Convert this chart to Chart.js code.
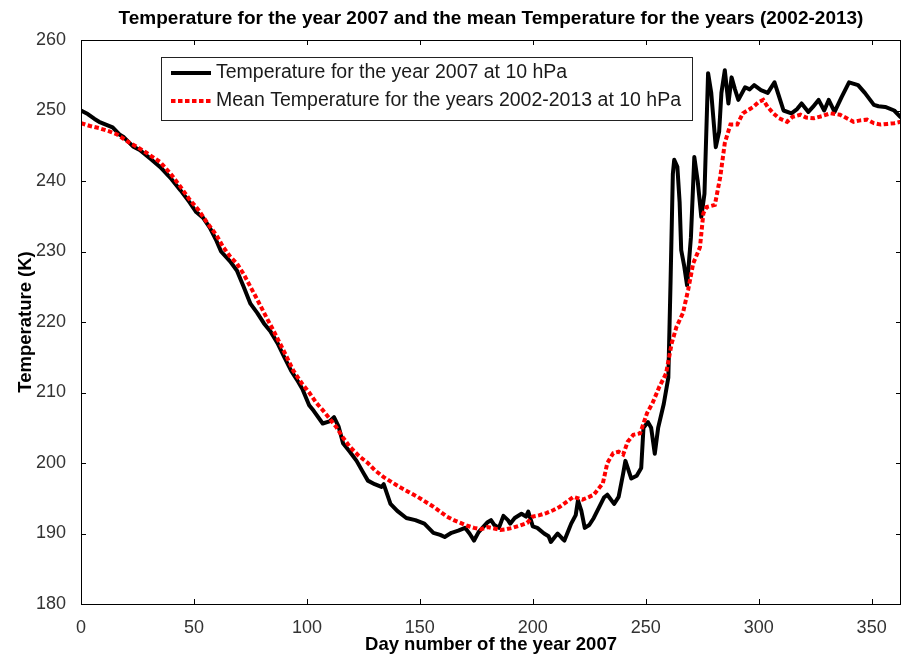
<!DOCTYPE html>
<html>
<head>
<meta charset="utf-8">
<title>Temperature at 10 hPa, 2007</title>
<script src="https://cdn.jsdelivr.net/npm/chart.js@4/dist/chart.umd.min.js"></script>
<style>
  html, body { margin: 0; padding: 0; background: #fff; overflow: hidden; }
  canvas { display: block; }
</style>
</head>
<body>
<canvas id="chartArea" width="902" height="660"></canvas>
<script>
// daily temperature at 10 hPa, 2007 (day number, K)
const days2007 = [0, 3, 6, 8, 11, 14, 17, 19, 23, 26, 31, 35, 40, 44, 48, 51, 54, 57, 60, 62,
    66, 69, 72, 75, 78, 81, 84, 87, 90, 93, 96, 98, 101, 103, 107, 110, 112, 114, 116, 119,
    122, 125, 127, 130, 133, 134, 137, 140, 144, 148, 152, 156, 159, 161, 164, 167, 170, 172, 174, 176,
    178, 180, 181.5, 183, 185, 187, 189, 190, 192, 195, 197, 198, 200, 202, 205, 207, 208, 210, 211, 213,
    214, 216, 217, 219, 220, 221.5, 223, 225, 227, 229, 231.5, 233, 236, 238, 240, 241, 243.6, 246, 248, 249,
    251, 252.4, 254, 255.5, 258, 260, 261, 262, 262.6, 264, 265, 265.7, 267, 268.3, 270, 271.5, 273, 274.6, 276, 277.6,
    279, 281, 282.5, 283.5, 285, 286.6, 288, 289.5, 291, 294, 296, 298, 301, 304, 307, 309, 311, 314.5, 317, 319,
    322, 324, 326.5, 329, 331, 333.6, 336.7, 340, 344, 347, 351, 353, 356, 360, 363];
const temp2007 = [250.0, 249.5, 248.8, 248.4, 248.0, 247.6, 246.6, 246.2, 244.9, 244.4, 243.1, 242.0, 240.3, 238.7, 237.0, 235.6, 234.8, 233.4, 231.5, 230.0,
    228.6, 227.3, 225.0, 222.6, 221.3, 219.8, 218.6, 217.0, 215.0, 213.1, 211.6, 210.5, 208.2, 207.4, 205.6, 205.9, 206.5, 205.2, 202.8, 201.6,
    200.3, 198.6, 197.5, 197.0, 196.6, 197.0, 194.2, 193.2, 192.2, 191.9, 191.4, 190.1, 189.8, 189.5, 190.1, 190.4, 190.8, 190.0, 189.0, 190.2,
    190.9, 191.6, 191.9, 191.2, 190.8, 192.5, 191.9, 191.4, 192.2, 192.8, 192.4, 193.1, 191.0, 190.8, 190.0, 189.6, 188.8, 189.6, 190.0, 189.3,
    189.0, 190.6, 191.4, 192.6, 194.7, 193.2, 190.8, 191.2, 192.2, 193.5, 195.1, 195.5, 194.2, 195.2, 198.5, 200.3, 197.8, 198.2, 199.3, 205.0,
    205.8, 205.0, 201.3, 205.0, 208.4, 212.1, 225.9, 241.0, 243.0, 242.0, 237.0, 230.2, 228.0, 225.2, 232.0, 243.4, 240.0, 234.9, 238.2, 255.3,
    252.5, 244.8, 247.0, 252.5, 255.7, 251.0, 254.7, 253.0, 251.5, 253.3, 253.0, 253.6, 252.9, 252.5, 254.0, 252.0, 250.0, 249.6, 250.2, 251.0,
    249.8, 250.5, 251.5, 250.0, 251.5, 249.8, 251.9, 254.0, 253.6, 252.5, 250.8, 250.6, 250.5, 250.0, 249.0];

// mean temperature 2002-2013 at 10 hPa
const daysMean = [0, 4, 8, 12, 16, 21.6, 25, 29, 35, 39.5, 44, 48, 52, 56, 60, 63, 66, 69, 72, 75,
    78, 82, 85, 88, 91, 94, 98, 101, 104, 107, 110, 113, 116, 119, 123, 127, 130, 134, 137, 141,
    145, 149, 153, 156, 159, 162, 165, 168, 171, 174, 177, 180, 183, 185.6, 188, 191, 194, 197.5, 200, 203,
    206, 209, 212, 215, 218, 222, 225, 227, 229, 231, 233, 235.6, 238, 240, 242, 244.5, 247.5, 250.6, 253, 256,
    259, 261.5, 263.6, 266.5, 268.8, 271, 274, 275.5, 277, 280.6, 283, 285, 287.5, 290.5, 293, 297.6, 300, 302, 304, 306.5,
    309, 312.6, 315, 318.5, 321, 324.4, 328, 331.7, 336, 339, 342, 345, 348, 351, 354, 357, 360, 363];
const tempMean = [248.2, 247.8, 247.5, 247.1, 246.6, 245.4, 244.8, 244.0, 242.7, 241.1, 239.2, 237.4, 235.9, 234.0, 232.3, 230.6, 229.3, 228.3, 226.8, 225.0,
    223.2, 220.7, 218.9, 217.0, 215.1, 213.1, 211.2, 210.0, 208.6, 207.5, 206.3, 205.1, 203.6, 202.3, 201.0, 200.0, 199.0, 198.0, 197.4, 196.6,
    195.9, 195.2, 194.4, 193.8, 193.1, 192.4, 191.9, 191.5, 191.1, 190.8, 190.6, 190.9, 190.7, 190.5, 190.6, 190.8, 191.1, 191.5, 192.4, 192.6,
    192.9, 193.3, 193.8, 194.5, 195.2, 194.8, 195.2, 195.5, 196.3, 197.1, 200.0, 201.4, 201.6, 201.2, 203.0, 204.0, 204.2, 207.1, 208.5, 210.8,
    212.7, 217.0, 219.3, 221.3, 224.6, 228.3, 230.6, 235.4, 236.3, 236.6, 240.6, 245.4, 248.0, 248.0, 249.6, 250.5, 251.2, 251.5, 250.5, 249.6,
    248.9, 248.4, 249.1, 249.4, 249.0, 248.9, 249.2, 249.6, 249.4, 248.9, 248.4, 248.6, 248.7, 248.2, 248.0, 248.1, 248.2, 248.4];

const xTicks = [0, 50, 100, 150, 200, 250, 300, 350];
const yTicks = [180, 190, 200, 210, 220, 230, 240, 250, 260];

const FONT = "'Liberation Sans', Arial, sans-serif";
Chart.defaults.font.family = FONT;

const toPoints = (xs, ys) => xs.map((x, i) => ({ x: x, y: ys[i] }));

// box around the plot with inward ticks on all four sides
const axesBox = {
    id: 'axesBox',
    afterDraw(chart) {
        const { ctx, chartArea: a, scales } = chart;
        const len = 5;
        ctx.save();
        ctx.strokeStyle = '#000';
        ctx.lineWidth = 1;
        ctx.beginPath();
        xTicks.forEach(v => {
            const px = Math.round(scales.x.getPixelForValue(v)) + 0.5;
            ctx.moveTo(px, a.bottom); ctx.lineTo(px, a.bottom - len);
            ctx.moveTo(px, a.top); ctx.lineTo(px, a.top + len);
        });
        yTicks.forEach(v => {
            const py = Math.round(scales.y.getPixelForValue(v)) + 0.5;
            ctx.moveTo(a.left, py); ctx.lineTo(a.left + len, py);
            ctx.moveTo(a.right, py); ctx.lineTo(a.right - len, py);
        });
        ctx.stroke();
        ctx.strokeRect(Math.round(a.left) + 0.5, Math.round(a.top) + 0.5,
            Math.round(a.right - a.left) - 1, Math.round(a.bottom - a.top));
        ctx.restore();
    }
};

// legend drawn as a framed box inside the plot
const boxLegend = {
    id: 'boxLegend',
    afterDatasetsDraw(chart) {
        const { ctx, chartArea: a } = chart;
        const x0 = a.left + 80, y0 = a.top + 17, w = 531, h = 63;
        const rows = [chart.data.datasets[1], chart.data.datasets[0]];
        ctx.save();
        ctx.fillStyle = '#fff';
        ctx.fillRect(x0, y0, w, h);
        ctx.strokeStyle = '#222';
        ctx.lineWidth = 1;
        ctx.strokeRect(x0 + 0.5, y0 + 0.5, w, h);
        ctx.font = '19.5px ' + FONT;
        ctx.textBaseline = 'middle';
        rows.forEach((ds, i) => {
            const y = y0 + 16 + i * 28;
            ctx.strokeStyle = ds.borderColor;
            ctx.lineWidth = ds.borderWidth;
            ctx.lineCap = 'butt';
            ctx.setLineDash(ds.borderDash || []);
            ctx.beginPath();
            ctx.moveTo(x0 + 10, y);
            ctx.lineTo(x0 + 50, y);
            ctx.stroke();
            ctx.setLineDash([]);
            ctx.fillStyle = '#1a1a1a';
            ctx.fillText(ds.label, x0 + 55, y);
        });
        ctx.restore();
    }
};

const ctx = document.getElementById('chartArea').getContext('2d');
new Chart(ctx, {
    type: 'line',
    data: {
        datasets: [{
            label: 'Mean Temperature for the years 2002-2013 at 10 hPa',
            data: toPoints(daysMean, tempMean),
            borderColor: '#ff0000',
            borderWidth: 4,
            borderDash: [4.5, 2.5],
            borderCapStyle: 'butt',
            pointRadius: 0,
            tension: 0,
            order: 0
        }, {
            label: 'Temperature for the year 2007 at 10 hPa',
            data: toPoints(days2007, temp2007),
            borderColor: '#000000',
            borderWidth: 4,
            borderJoinStyle: 'round',
            pointRadius: 0,
            tension: 0,
            order: 1
        }]
    },
    options: {
        responsive: false,
        animation: false,
        events: [],
        layout: { padding: { left: 0, right: 1, top: 0, bottom: 0 } },
        plugins: {
            legend: { display: false },
            tooltip: { enabled: false },
            title: {
                display: true,
                fullSize: false,
                text: 'Temperature for the year 2007 and the mean Temperature for the years (2002-2013)',
                color: '#000',
                font: { size: 19, weight: 'bold' },
                padding: { top: 7, bottom: 10.2 }
            }
        },
        scales: {
            x: {
                type: 'linear',
                min: 0,
                max: 363,
                afterFit: s => { s.height = 56; },
                afterBuildTicks: s => { s.ticks = xTicks.map(v => ({ value: v })); },
                grid: { display: false },
                border: { display: false },
                ticks: { color: '#333', font: { size: 18 }, padding: 5, maxRotation: 0 },
                title: {
                    display: true,
                    text: 'Day number of the year 2007',
                    color: '#000',
                    font: { size: 18.5, weight: 'bold' },
                    padding: { top: 4, bottom: 4 }
                }
            },
            y: {
                min: 180,
                max: 260,
                afterFit: s => { s.width = 81; },
                afterBuildTicks: s => { s.ticks = yTicks.map(v => ({ value: v })); },
                grid: { display: false },
                border: { display: false },
                ticks: { color: '#333', font: { size: 18 }, padding: 7 },
                title: {
                    display: true,
                    text: 'Temperature (K)',
                    color: '#000',
                    font: { size: 18.5, weight: 'bold' },
                    padding: { top: 15, bottom: 15 }
                }
            }
        }
    },
    plugins: [boxLegend, axesBox]
});
</script>
</body>
</html>
